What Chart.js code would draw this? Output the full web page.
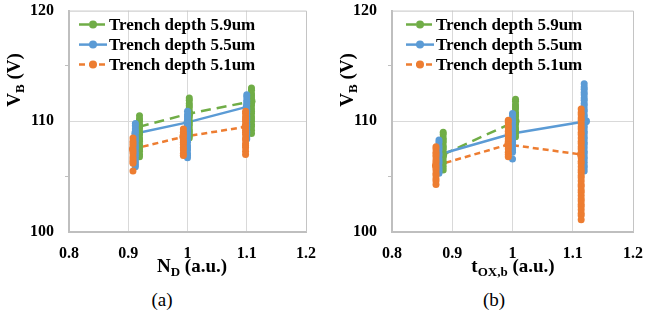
<!DOCTYPE html>
<html>
<head>
  <meta charset="utf-8">
  <title>Breakdown voltage vs N_D and t_OX,b</title>
  <script src="https://cdn.jsdelivr.net/npm/chart.js"></script>
  <style>
    body { margin: 0; background: #fff; }
    #wrap { position: relative; width: 667px; height: 322px; font-family: "Liberation Serif", serif; color: #000; overflow: hidden; }
    /* chart.js keeps ~20px above the plot for the top tick label; pull the canvas up so the plot starts at y=10 */
    canvas { position: absolute; top: -10px; }
    #chartA { left: 0; }
    #chartB { left: 333px; }
    .xtitle, .ytitle, .caption { position: absolute; white-space: nowrap; line-height: 22px; }
    .xtitle { font-weight: bold; font-size: 19px; width: 200px; text-align: center; top: 255px; }
    .ytitle { font-weight: bold; font-size: 19px; width: 120px; text-align: center; top: 68px; transform: rotate(-90deg); }
    .sub { font-size: 13px; position: relative; top: 4px; }
    .caption { font-size: 19px; width: 60px; text-align: center; top: 289px; }
  </style>
</head>
<body>
  <div id="wrap">
    <canvas id="chartA" width="333" height="277"></canvas>
    <canvas id="chartB" width="334" height="277"></canvas>
    <div class="ytitle" style="left:-45px">V<span class="sub">B</span> (V)</div>
    <div class="ytitle" style="left:288px">V<span class="sub">B</span> (V)</div>
    <div class="xtitle" style="left:92px">N<span class="sub">D</span> (a.u.)</div>
    <div class="xtitle" style="left:413px">t<span class="sub">OX,b</span> (a.u.)</div>
    <div class="caption" style="left:132px">(a)</div>
    <div class="caption" style="left:464px">(b)</div>
  </div>

  <script>
    // axis ticks (shared by both panels)
    const xTickValues = [0.8, 0.9, 1.0, 1.1, 1.2];
    const xTickLabels = ["0.8", "0.9", "1", "1.1", "1.2"];
    const yTickValues = [100, 105, 110, 115, 120];
    const yTickLabels = ["100", "", "110", "", "120"];

    const seriesNames = ["Trench depth 5.9um", "Trench depth 5.5um", "Trench depth 5.1um"];

    // ---- panel (a): N_D sweep ----
    // mean lines
    const ndGreenMeanX = [0.918, 1.003, 1.108];
    const ndGreenMeanY = [109.5, 110.7, 111.8];
    const ndBlueMeanX = [0.912, 1.0, 1.10];
    const ndBlueMeanY = [108.9, 109.9, 111.3];
    const ndOrangeMeanX = [0.908, 0.993, 1.098];
    const ndOrangeMeanY = [107.5, 108.6, 109.5];

    // monte-carlo samples, one list per x position
    const ndGreenSampleX = [0.919, 1.003, 1.108];
    const ndGreenSamples = [
      [110.5, 110.2, 110.0, 109.7, 109.6, 109.4, 109.1, 108.9, 108.8, 108.5, 108.3, 108.2, 107.9, 107.7, 107.5, 107.3, 107.0, 106.8],
      [112.1, 111.9, 111.6, 111.4, 111.2, 110.9, 110.7, 110.5, 110.3, 110.0, 109.8, 109.6, 109.3, 109.1, 108.9, 108.7, 108.5],
      [113.0, 112.8, 112.5, 112.3, 112.1, 111.8, 111.6, 111.4, 111.1, 110.9, 110.7, 110.4, 110.2, 110.0, 109.7, 109.5, 109.2, 108.9]
    ];
    const ndBlueSampleX = [0.912, 1.0, 1.10];
    const ndBlueSamples = [
      [109.8, 109.6, 109.3, 109.1, 108.9, 108.6, 108.4, 108.2, 107.9, 107.7, 107.5, 107.2, 107.0, 106.8, 106.5, 106.3, 106.1, 105.9],
      [110.9, 110.6, 110.4, 110.2, 109.9, 109.7, 109.5, 109.2, 109.0, 108.8, 108.5, 108.3, 108.1, 107.8, 107.6, 107.4, 107.1, 106.9, 106.7],
      [112.4, 112.2, 111.9, 111.7, 111.5, 111.2, 111.0, 110.8, 110.5, 110.3, 110.1, 109.8, 109.6, 109.4, 109.1, 108.9, 108.6, 108.4]
    ];
    const ndOrangeSampleX = [0.908, 0.993, 1.098];
    const ndOrangeSamples = [
      [108.5, 108.2, 108.0, 107.8, 107.5, 107.3, 107.1, 106.8, 106.6, 106.4, 106.2, 105.5],
      [109.3, 109.0, 108.8, 108.6, 108.3, 108.1, 107.9, 107.6, 107.4, 107.1, 106.9],
      [110.9, 110.7, 110.4, 110.2, 110.0, 109.7, 109.5, 109.2, 109.0, 108.8, 108.5, 108.3, 108.0, 107.8, 107.6, 107.3, 107.0]
    ];

    // ---- panel (b): t_OX,b sweep ----
    const toxGreenMeanX = [0.885, 1.005];
    const toxGreenMeanY = [107.0, 110.0];
    const toxBlueMeanX = [0.878, 1.0, 1.122];
    const toxBlueMeanY = [107.0, 108.9, 110.0];
    const toxOrangeMeanX = [0.873, 0.993, 1.114];
    const toxOrangeMeanY = [106.0, 107.9, 107.0];

    const toxGreenSampleX = [0.885, 1.005];
    const toxGreenSamples = [
      [109.0, 108.8, 108.5, 108.3, 108.1, 107.8, 107.6, 107.4, 107.1, 106.9, 106.7, 106.4, 106.2, 105.9, 105.6],
      [112.0, 111.8, 111.5, 111.3, 111.1, 110.8, 110.6, 110.4, 110.1, 109.9, 109.7, 109.4, 109.2, 108.9, 108.6]
    ];
    const toxBlueSampleX = [0.878, 1.0, 1.119];
    const toxBlueSamples = [
      [108.3, 108.1, 107.8, 107.6, 107.4, 107.1, 106.9, 106.6, 106.4, 106.2, 105.9, 105.7, 105.5, 105.3],
      [110.7, 110.5, 110.2, 110.0, 109.8, 109.5, 109.3, 109.0, 108.8, 108.6, 108.3, 108.1, 107.9, 107.6, 107.4, 107.2, 106.6],
      [113.4, 113.1, 112.9, 112.6, 112.4, 112.1, 111.9, 111.6, 111.4, 111.1, 110.9, 110.6, 110.4, 110.1, 109.9, 109.6,
       109.4, 109.1, 108.9, 108.6, 108.4, 108.1, 107.9, 107.6, 107.3, 107.1, 106.8, 106.6, 106.3, 106.0, 105.8, 105.5]
    ];
    const toxOrangeSampleX = [0.873, 0.993, 1.114];
    const toxOrangeSamples = [
      [107.7, 107.5, 107.2, 107.0, 106.8, 106.5, 106.3, 106.0, 105.8, 105.6, 105.3, 105.1, 104.8, 104.6, 104.3],
      [110.1, 109.9, 109.6, 109.4, 109.1, 108.9, 108.7, 108.4, 108.2, 107.9, 107.7, 107.5, 107.2, 107.0, 106.8],
      [111.1, 110.8, 110.6, 110.3, 110.1, 109.8, 109.5, 109.3, 109.0, 108.8, 108.5, 108.2, 108.0, 107.7, 107.5, 107.2,
       106.9, 106.7, 106.4, 106.2, 105.9, 105.6, 105.4, 105.1, 104.9, 104.6, 104.3, 104.1, 103.8, 103.6, 103.3, 103.0,
       102.8, 102.5, 102.3, 102.0, 101.7, 101.5, 101.1]
    ];

    const colors = ["#70ad47", "#5b9bd5", "#ed7d31"];
    const dashes = [[10, 6], [], [6, 4]];
    const serif = '"Liberation Serif", serif';

    // draws the thin top/right frame of the plot
    const framePlugin = {
      id: "frame",
      beforeDatasetsDraw(chart) {
        const { ctx, chartArea: a } = chart;
        ctx.save();
        ctx.strokeStyle = "#c4c4c4";
        ctx.lineWidth = 1;
        ctx.beginPath();
        ctx.moveTo(a.left, a.top + 0.5);
        ctx.lineTo(a.right + 0.5, a.top + 0.5);
        ctx.lineTo(a.right + 0.5, a.bottom);
        ctx.stroke();
        ctx.restore();
      }
    };

    // legend sits inside the plot, top-left, like the original
    const insideLegend = {
      id: "insideLegend",
      afterDraw(chart, args, opts) {
        const { ctx, chartArea: a } = chart;
        const x0 = a.left + opts.offsetX;
        ctx.save();
        ctx.font = "bold 17px " + serif;
        ctx.textBaseline = "middle";
        chart.data.datasets
          .filter(d => d.legendRank !== undefined)
          .sort((p, q) => p.legendRank - q.legendRank)
          .forEach((d, i) => {
            const y = a.top + 14 + i * 20;
            ctx.strokeStyle = d.borderColor;
            ctx.lineWidth = 2.5;
            ctx.setLineDash(d.borderDash);
            ctx.beginPath();
            ctx.moveTo(x0, y);
            ctx.lineTo(x0 + 28, y);
            ctx.stroke();
            ctx.setLineDash([]);
            ctx.fillStyle = d.borderColor;
            ctx.beginPath();
            ctx.arc(x0 + 14, y, 4, 0, Math.PI * 2);
            ctx.fill();
            ctx.fillStyle = "#000";
            ctx.fillText(d.label, x0 + 30, y + 1);
          });
        ctx.restore();
      }
    };

    function buildDatasets(meanX, meanY, sampleX, samples) {
      const sets = [];
      // chart.js paints dataset 0 last, so orange (index 2) goes first to end up on top
      for (let i = 2; i >= 0; i--) {
        sets.push({
          data: samples[i].flatMap((ys, k) => ys.map(y => ({ x: sampleX[i][k], y }))),
          backgroundColor: colors[i],
          borderWidth: 0,
          pointRadius: 3.5,
          pointHoverRadius: 3.5,
          showLine: false
        });
      }
      for (let i = 2; i >= 0; i--) {
        sets.push({
          label: seriesNames[i],
          legendRank: i,
          data: meanX[i].map((x, k) => ({ x, y: meanY[i][k] })),
          borderColor: colors[i],
          backgroundColor: colors[i],
          borderDash: dashes[i],
          borderWidth: 2.5,
          pointRadius: 4,
          pointBorderWidth: 0,
          showLine: true
        });
      }
      return sets;
    }

    function makeChart(id, yAxisWidth, padRight, legendOffset, datasets) {
      const tickFont = { family: serif, size: 16, weight: "bold" };
      const clear = "rgba(0,0,0,0)";
      return new Chart(document.getElementById(id), {
        type: "scatter",
        data: { datasets },
        plugins: [framePlugin, insideLegend],
        options: {
          responsive: false,
          animation: false,
          devicePixelRatio: 1,
          layout: { padding: { top: 0, right: padRight, bottom: 0, left: 0 } },
          plugins: {
            legend: { display: false },
            tooltip: { enabled: false },
            insideLegend: { offsetX: legendOffset }
          },
          scales: {
            x: {
              type: "linear",
              min: 0.8,
              max: 1.2,
              afterBuildTicks: s => { s.ticks = xTickValues.map(v => ({ value: v })); },
              afterFit: s => { s.height = 35; },
              ticks: {
                callback: (v, i) => xTickLabels[i],
                font: tickFont,
                color: "#000",
                padding: 12,
                maxRotation: 0,
                autoSkip: false
              },
              grid: {
                drawTicks: false,
                color: c => (c.index > 0 && c.index < xTickValues.length - 1) ? "#d9d9d9" : clear
              },
              border: { color: "#bfbfbf", width: 2 }
            },
            y: {
              type: "linear",
              min: 100,
              max: 120,
              afterBuildTicks: s => { s.ticks = yTickValues.map(v => ({ value: v })); },
              afterFit: s => { s.width = yAxisWidth; },
              ticks: {
                callback: (v, i) => yTickLabels[i],
                font: tickFont,
                color: "#000",
                padding: 11,
                autoSkip: false
              },
              grid: {
                tickLength: 4,
                color: c => (c.tick && c.tick.value === 110) ? "#d9d9d9" : clear,
                tickColor: c => yTickLabels[c.index] === "" ? "#bfbfbf" : clear
              },
              border: { color: "#bfbfbf", width: 2 }
            }
          }
        }
      });
    }

    makeChart("chartA", 69, 27, 10, buildDatasets(
      [ndGreenMeanX, ndBlueMeanX, ndOrangeMeanX],
      [ndGreenMeanY, ndBlueMeanY, ndOrangeMeanY],
      [ndGreenSampleX, ndBlueSampleX, ndOrangeSampleX],
      [ndGreenSamples, ndBlueSamples, ndOrangeSamples]
    ));

    makeChart("chartB", 59, 34, 14, buildDatasets(
      [toxGreenMeanX, toxBlueMeanX, toxOrangeMeanX],
      [toxGreenMeanY, toxBlueMeanY, toxOrangeMeanY],
      [toxGreenSampleX, toxBlueSampleX, toxOrangeSampleX],
      [toxGreenSamples, toxBlueSamples, toxOrangeSamples]
    ));
  </script>
</body>
</html>
